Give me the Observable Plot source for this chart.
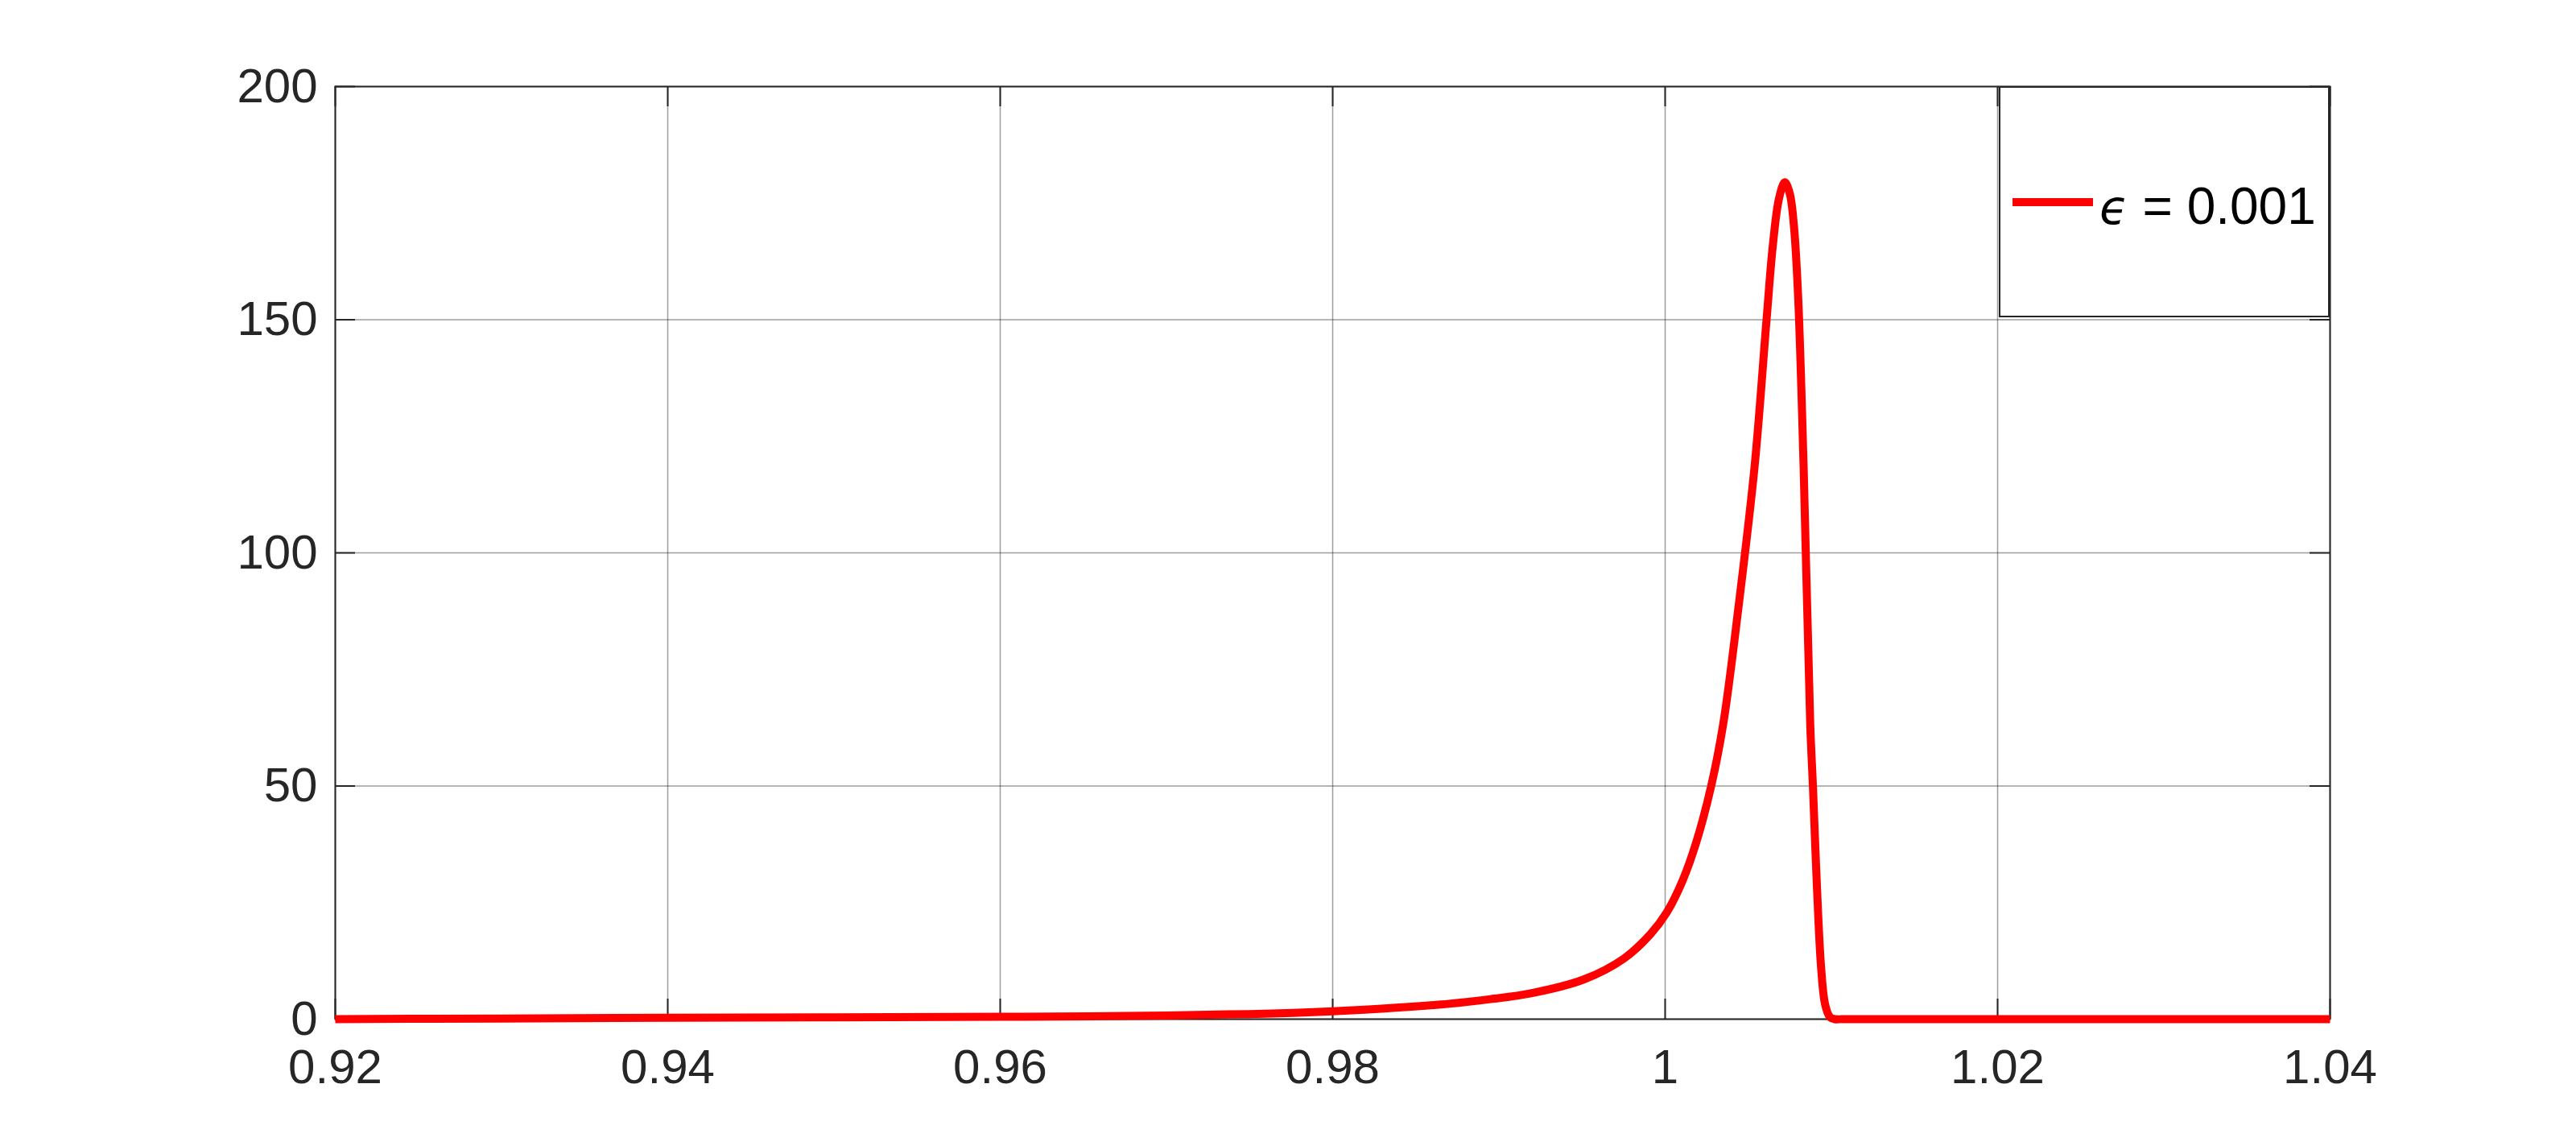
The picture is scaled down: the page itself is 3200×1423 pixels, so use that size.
<!DOCTYPE html>
<html><head><meta charset="utf-8">
<script src="https://cdn.jsdelivr.net/npm/d3@7"></script>
<script src="https://cdn.jsdelivr.net/npm/@observablehq/plot@0.6"></script>
<style>
body{margin:0;background:#fff;}
#wrap{position:relative;width:3200px;height:1423px;}
#legend{position:absolute;left:2483px;top:107px;}
</style></head>
<body><div id="wrap"></div>
<script>
// Data
const xValues = [0.92, 0.93, 0.94, 0.95, 0.96, 0.9676, 0.975, 0.98, 0.984, 0.987, 0.9895, 0.99187, 0.9951, 0.99752, 0.99913, 1.0001, 1.00106, 1.00187, 1.00277, 1.00349, 1.0044, 1.00538, 1.0061, 1.00648, 1.00685, 1.0072, 1.0075, 1.00775, 1.008, 1.00833, 1.00873, 1.00889, 1.00913, 1.00938, 1.00962, 1.0099, 1.0102, 1.0106, 1.011, 1.02, 1.03, 1.04];
const yValues = [0.0, 0.15, 0.3, 0.4, 0.5, 0.7, 1.1, 1.7, 2.5, 3.3, 4.3, 5.5, 8.5, 13.0, 18.3, 22.9, 29.8, 37.9, 50, 63.2, 88, 118.5, 150, 166, 176, 179.5, 177, 170, 155, 118.5, 63, 50, 28.5, 11.2, 3.2, 0.5, 0, 0, 0, 0, 0, 0];
const xTicks = [0.92, 0.94, 0.96, 0.98, 1.00, 1.02, 1.04];
const yTicks = [0, 50, 100, 150, 200];
const seriesSymbol = "ϵ";
const seriesText = " = 0.001";

const data = xValues.map((x, i) => ({x, y: yValues[i]}));

const W = 3200, H = 1423;
const mL = 416, mR = 306, mT = 107, mB = 158;
const plotH = H - mT - mB, plotW = W - mL - mR;
const tickLen = 25;
const font = '"Liberation Sans", Arial, Helvetica, sans-serif';
const ink = "#262626";

const chart = Plot.plot({
  width: W, height: H,
  marginLeft: mL, marginRight: mR, marginTop: mT, marginBottom: mB,
  style: {fontFamily: font, fontSize: "60px", color: ink, background: "#fff", overflow: "visible"},
  x: {domain: [0.92, 1.04]},
  y: {domain: [0, 200]},
  marks: [
    Plot.gridX(xTicks, {stroke: ink, strokeOpacity: 0.45, strokeWidth: 1.5}),
    Plot.gridY(yTicks, {stroke: ink, strokeOpacity: 0.45, strokeWidth: 1.5}),
    Plot.tickX(xTicks, {x: d => d, stroke: ink, strokeWidth: 2, insetTop: plotH - tickLen}),
    Plot.tickX(xTicks, {x: d => d, stroke: ink, strokeWidth: 2, insetBottom: plotH - tickLen}),
    Plot.tickY(yTicks, {y: d => d, stroke: ink, strokeWidth: 2, insetRight: plotW - tickLen}),
    Plot.tickY(yTicks, {y: d => d, stroke: ink, strokeWidth: 2, insetLeft: plotW - tickLen}),
    Plot.axisX(xTicks, {tickSize: 0, tickPadding: 37, tickFormat: d => String(+d.toFixed(2)), label: null, fill: ink}),
    Plot.axisY(yTicks, {tickSize: 0, tickPadding: 22, label: null, fill: ink}),
    Plot.frame({stroke: ink, strokeWidth: 2}),
    Plot.line(data, {x: "x", y: "y", stroke: "#ff0000", strokeWidth: 10, curve: "catmull-rom", strokeLinejoin: "round", strokeLinecap: "butt"})
  ]
});

const wrap = document.getElementById("wrap");
wrap.appendChild(chart);

// Legend box (inside the axes, top-right)
const lw = 411, lh = 287;
const leg = d3.select(wrap).append("svg")
  .attr("id", "legend").attr("width", lw).attr("height", lh);
leg.append("rect").attr("x", 1).attr("y", 1).attr("width", lw - 2).attr("height", lh - 2)
  .attr("fill", "#fff").attr("stroke", ink).attr("stroke-width", 2);
leg.append("line").attr("x1", 17).attr("x2", 117).attr("y1", 144).attr("y2", 144)
  .attr("stroke", "#ff0000").attr("stroke-width", 10);
const t = leg.append("text").attr("x", 125).attr("y", 171)
  .attr("font-family", font).attr("font-size", 64).attr("fill", "#000");
t.append("tspan").attr("font-family", '"DejaVu Sans", sans-serif').attr("font-style", "italic").attr("font-size", 58).text(seriesSymbol);
t.append("tspan").text(seriesText);
</script>
</body></html>
